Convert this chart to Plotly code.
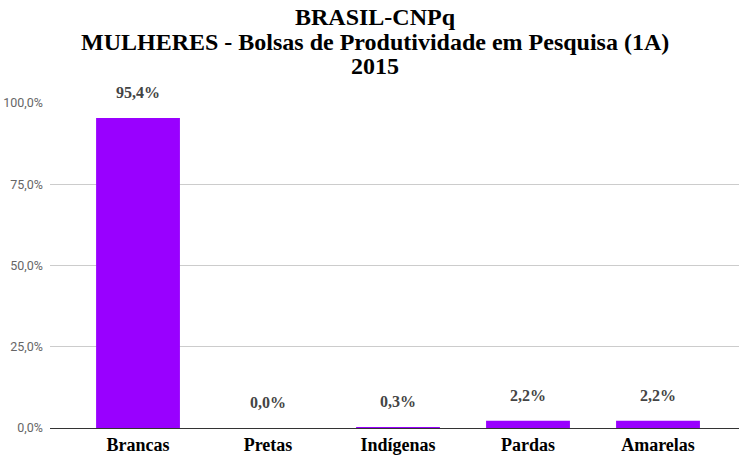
import plotly.graph_objects as go

categorias = ['Brancas', 'Pretas', 'Indígenas', 'Pardas', 'Amarelas']
percentuais = [95.4, 0.0, 0.3, 2.2, 2.2]
rotulos = ['95,4%', '0,0%', '0,3%', '2,2%', '2,2%']
ticks_y = [0, 25, 50, 75, 100]
ticks_y_texto = ['0,0%', '25,0%', '50,0%', '75,0%', '100,0%']
titulo = ['BRASIL-CNPq', 'MULHERES - Bolsas de Produtividade em Pesquisa (1A)', '2015']

roxo = '#9900ff'
serif = 'Liberation Serif, Times New Roman, serif'

fig = go.Figure(go.Bar(
    x=categorias,
    y=percentuais,
    marker=dict(color=roxo, line=dict(width=0)),
    width=0.645,
))

# rótulos de valor acima das barras, no estilo do Google Sheets
for cat, val, txt in zip(categorias, percentuais, rotulos):
    fig.add_annotation(
        x=cat, y=val, text=txt, showarrow=False,
        yanchor='bottom', yshift=15,
        font=dict(family=serif, size=16, color='#444444', weight='bold'),
    )

# título em três linhas, com espaçamento mais apertado que o do title
for i, linha in enumerate(titulo):
    fig.add_annotation(
        text=linha, xref='paper', yref='paper', x=0.472, y=1,
        xanchor='center', yanchor='middle', yshift=86 - 24.5 * i,
        showarrow=False,
        font=dict(family=serif, size=24, color='#000000', weight='bold'),
    )

fig.update_layout(
    width=739, height=456,
    margin=dict(l=50, r=0, t=103, b=28),
    plot_bgcolor='white', paper_bgcolor='white',
    showlegend=False,
)

fig.update_xaxes(
    range=[-0.677, 4.623],
    showgrid=False, showline=False, zeroline=False,
    ticks='', ticklen=0, ticklabelstandoff=4,
    tickfont=dict(family=serif, size=18, color='#000000', weight='bold'),
)

fig.update_yaxes(
    range=[0, 100],
    tickvals=ticks_y, ticktext=ticks_y_texto,
    showgrid=True, gridcolor='#cccccc', gridwidth=1,
    zeroline=True, zerolinecolor='#333333', zerolinewidth=1,
    showline=False, ticks='', ticklabelstandoff=6,
    tickfont=dict(family='Roboto, Arial, sans-serif', size=12.5, color='#666666'),
)

# sem margem no body, para a figura ocupar a janela inteira
fig.write_html('out.html', config={'displayModeBar': False},
               post_script="document.body.style.margin='0';")
